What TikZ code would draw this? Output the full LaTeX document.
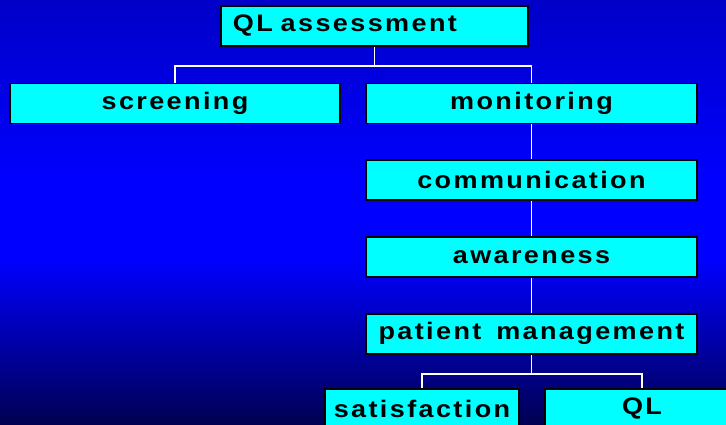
\documentclass[tikz,border=0pt]{standalone}
\usepackage{fontspec}
\setmainfont{Liberation Sans}
\newfontfamily\boxfont[LetterSpace=10, FakeStretch=1.13, WordSpace=1.5]{Liberation Sans Bold}
\usetikzlibrary{positioning, calc}
\definecolor{bgTop}{RGB}{0,0,200}
\definecolor{bgMid}{RGB}{0,0,255}
\definecolor{bgBottom}{RGB}{0,0,80}
\definecolor{boxCyan}{RGB}{0,255,255}

\begin{document}
\begin{tikzpicture}[
  x=0.025cm, y=-0.025cm,
  baseBox/.style={rectangle, draw=black, line width=1.4pt, fill=boxCyan, inner sep=0pt, minimum height=1cm, font={\fontsize{17}{20}\boxfont}},
  wideBox/.style={baseBox, minimum width=8.25cm},
  leafBox/.style={baseBox, minimum width=4.85cm},
  link/.style={draw=white, line width=1.2pt},
  node distance=0.87cm
]
\shade[top color=bgTop, bottom color=bgMid] (0,0) rectangle (726,181);
\fill[bgMid] (0,180) rectangle (726,261);
\shade[top color=bgMid, bottom color=bgBottom] (0,260) rectangle (726,425);
\useasboundingbox (0,0) rectangle (726,425);
\node[baseBox, minimum width=7.68cm, text width=7.08cm, align=left] (qla) at (374.5,26) {QL assessment};
\node[wideBox] (scr) at (175,103.5) {screening};
\node[wideBox] (mon) at (531.5,103.5) {monitoring};
\node[wideBox, below=of mon] (com) {communication};
\node[wideBox, below=of com] (awr) {awareness};
\node[wideBox, below=of awr] (pmg) {patient management};
\node[leafBox] (sat) at (422,409) {satisfaction};
\node[leafBox] (qlo) at (642,409) {QL};
\draw[link] (qla.south) -- ++(0,19) -| (scr.north);
\draw[link] (qla.south) -- ++(0,19) -| (mon.north);
\draw[link] (mon.south) -- (com.north);
\draw[link] (com.south) -- (awr.north);
\draw[link] (awr.south) -- (pmg.north);
\draw[link] (pmg.south) -- ++(0,19) -| (sat.north);
\draw[link] (pmg.south) -- ++(0,19) -| (qlo.north);
\end{tikzpicture}
\end{document}
